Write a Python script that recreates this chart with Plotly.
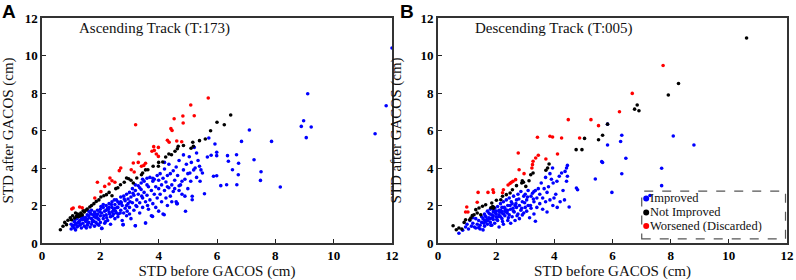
import plotly.graph_objects as go
from plotly.subplots import make_subplots

# ---------------- Panel A: Ascending Track (T:173) ----------------
a_imp_x = [1.0,1.05,1.1,1.15,1.2,1.25,1.3,1.3,1.35,1.4,1.45,1.45,1.5,1.5,1.1,1.2,1.4,1.0,1.15,1.35,
           1.55,1.55,1.6,1.6,1.65,1.65,1.7,1.7,1.75,1.75,1.8,1.8,1.85,1.85,1.9,1.9,1.95,1.95,2.0,2.0,1.6,1.7,1.8,1.9,2.0,1.55,
           2.05,2.05,2.1,2.1,2.15,2.15,2.2,2.2,2.25,2.25,2.3,2.3,2.35,2.35,2.4,2.4,2.45,2.45,2.5,2.5,2.2,2.3,2.4,2.5,2.1,
           2.55,2.55,2.6,2.6,2.65,2.7,2.7,2.75,2.75,2.78,2.8,2.8,2.85,2.85,2.9,2.9,2.95,2.95,3.0,3.0,3.0,2.6,2.7,2.9,
           3.05,3.05,3.1,3.1,3.15,3.15,3.2,3.2,3.25,3.25,3.3,3.3,3.35,3.35,3.4,3.4,3.45,3.45,3.5,3.5,3.55,3.55,3.2,3.35,3.45,
           3.6,3.6,3.65,3.65,3.7,3.7,3.75,3.75,3.8,3.8,3.85,3.85,3.9,3.9,3.95,3.95,4.0,4.0,4.0,3.6,3.8,
           4.05,4.05,4.1,4.1,4.15,4.15,4.2,4.2,4.25,4.25,4.3,4.3,4.35,4.35,4.4,4.4,4.45,4.45,4.5,4.5,4.2,4.3,
           4.55,4.55,4.6,4.6,4.62,4.65,4.7,4.7,4.75,4.8,4.8,4.85,4.85,4.9,4.92,4.95,5.0,5.0,4.7,4.9,
           5.05,5.07,5.1,5.12,5.15,5.15,5.2,5.22,5.25,5.3,5.35,5.4,5.42,5.45,5.5,5.3,5.57,
           5.67,5.72,5.8,5.88,5.93,5.99,5.99,5.99,6.13,6.33,6.36,6.39,6.53,6.67,6.68,6.73,6.74,6.84,
           7.11,7.27,7.49,7.51,7.87,8.17,8.89,8.97,9.06,9.11,9.23,11.42,11.8,12.0,
           2.05,2.78,3.2,3.55,3.79,4.19,4.64,
           1.08,1.18,1.28,1.38,1.48,1.58,1.68,1.78,1.88,1.98,1.12,1.22,1.32,1.42,1.52,1.62,1.72,1.82,1.92,2.02,
           2.12,2.22,2.32,2.42,2.52,2.62,2.72,2.82,2.92,3.02,2.18,2.28,2.38,2.48,2.58,2.68,3.12,3.22,3.42,3.62]
a_imp_y = [0.75,0.9,0.8,1.0,0.85,1.1,0.95,1.2,0.8,1.05,1.25,0.9,1.15,1.35,1.15,1.3,1.4,1.0,0.7,1.3,
           0.95,1.25,1.45,1.1,0.85,1.6,1.3,1.0,1.5,1.2,0.9,1.65,1.35,1.1,1.55,1.75,1.25,0.95,1.45,1.8,1.7,1.75,1.4,1.0,1.1,1.5,
           0.78,1.6,1.9,1.3,1.7,1.05,2.0,1.5,1.2,1.85,1.65,2.1,1.4,1.0,1.9,2.2,1.55,1.75,2.05,1.3,1.75,1.9,1.65,1.85,2.05,
           1.6,2.3,1.9,1.4,2.1,2.45,1.75,1.2,2.0,0.98,2.5,1.6,2.25,1.85,2.6,1.45,2.1,2.35,2.7,1.9,1.55,2.2,2.2,2.0,
           2.45,1.3,2.9,2.15,1.75,2.55,0.92,2.8,2.3,1.95,3.05,2.6,1.6,2.15,2.85,3.2,2.4,1.9,3.3,2.7,1.07,2.2,3.1,2.95,3.4,
           3.45,2.55,1.8,3.0,2.3,3.5,2.8,1.45,3.3,2.1,2.6,3.4,1.9,3.0,2.4,3.6,2.9,3.35,1.7,3.1,3.45,
           3.7,2.6,2.2,3.1,1.55,3.45,2.8,3.95,2.4,3.25,3.6,2.0,2.95,4.2,2.5,3.7,3.1,2.2,3.85,2.75,4.3,3.0,
           3.35,2.9,4.05,2.2,2.1,3.6,2.8,4.4,3.1,3.29,2.6,3.9,4.7,3.4,1.69,4.2,3.7,2.9,3.05,2.5,
           4.6,3.73,3.29,4.3,2.49,2.31,3.9,5.1,4.0,3.5,4.4,4.09,3.29,3.9,3.73,4.8,2.63,
           4.59,5.6,4.68,3.56,5.28,4.66,3.59,4.84,3.06,3.11,4.66,4.36,3.91,4.71,3.11,3.64,4.25,5.42,
           6.03,4.44,3.34,3.8,5.42,2.99,6.22,6.52,5.62,7.96,6.19,5.83,7.32,10.4,
           0.78,0.98,0.92,1.07,1.42,1.51,2.1,
           0.95,1.05,1.15,1.25,1.35,1.05,1.55,1.15,1.45,1.65,1.2,0.9,1.0,1.3,0.8,1.35,1.15,1.55,1.3,1.95,
           1.45,1.35,1.55,1.45,1.7,1.55,2.15,2.35,1.7,2.2,1.15,1.8,2.05,2.3,1.9,1.6,2.65,2.0,2.5,2.0]

a_not_x = [6.47,6.25,6.0,5.78,5.6,5.4,5.17,5.19,5.11,4.67,4.64,4.56,4.44,4.24,4.14,3.99,3.81,3.63,3.45,3.41,
           3.25,3.13,2.9,2.97,2.82,2.69,2.53,2.4,2.21,2.12,2.02,1.86,1.78,1.64,1.55,1.41,1.33,1.27,1.18,1.12,
           1.01,0.89,0.78,0.84,0.72,0.63,0.97,1.22,1.31,1.45,1.05,1.15,1.25,1.38,1.5,1.7,1.95,2.3,2.6,3.05,3.55,4.0,4.35,4.85]
a_not_y = [6.83,6.31,6.44,5.99,5.55,5.46,5.37,5.16,5.05,5.16,5.03,4.89,4.71,4.59,4.32,4.09,4.09,3.91,3.73,3.64,
           3.47,3.2,3.47,3.43,3.24,3.11,2.9,2.52,2.58,2.52,2.45,2.22,2.1,1.92,1.81,1.72,1.6,1.49,1.42,1.33,
           1.24,1.21,1.1,0.98,0.89,0.71,1.35,1.55,1.45,1.65,1.45,1.6,1.4,1.5,1.75,2.0,2.3,2.7,2.95,3.35,3.9,4.3,4.75,5.2]

a_wor_x = [5.7,5.1,5.22,4.83,4.84,4.53,4.42,4.46,3.21,4.3,4.36,4.62,4.79,3.83,3.99,3.77,3.85,3.92,3.99,3.33,
           3.3,3.13,3.49,3.55,3.41,3.06,3.16,2.7,2.65,2.33,2.4,2.5,2.3,2.15,1.9,2.02,1.81,1.29,1.38,1.02,1.07]
a_wor_y = [7.73,7.36,6.79,6.77,6.4,6.63,6.1,6.0,6.31,5.48,5.37,5.44,5.4,5.14,5.1,4.89,4.94,4.75,4.62,4.76,
           4.3,4.27,4.14,4.25,4.09,3.91,3.79,4.0,3.86,3.47,3.32,3.24,3.15,3.02,3.24,2.74,2.4,1.92,1.88,1.81,1.87]

# ---------------- Panel B: Descending Track (T:005) ----------------
b_imp_x = [0.72,0.85,0.95,1.0,1.05,1.1,1.15,1.2,1.25,1.3,1.3,1.35,1.4,1.45,1.45,1.5,1.5,1.2,1.4,
           1.55,1.55,1.6,1.6,1.65,1.7,1.7,1.75,1.8,1.8,1.85,1.85,1.9,1.9,1.95,1.95,2.0,2.0,1.65,1.75,1.6,1.8,1.9,
           2.05,2.05,2.1,2.1,2.15,2.15,2.2,2.2,2.25,2.25,2.3,2.3,2.35,2.35,2.4,2.4,2.45,2.45,2.5,2.5,2.1,2.2,2.3,2.4,2.0,2.15,2.25,
           2.55,2.55,2.6,2.6,2.65,2.7,2.7,2.75,2.75,2.8,2.8,2.85,2.85,2.9,2.9,2.95,3.0,3.0,2.65,2.95,
           3.05,3.05,3.1,3.1,3.15,3.2,3.2,3.25,3.3,3.3,3.35,3.35,3.4,3.4,3.45,3.5,3.5,3.3,
           3.55,3.6,3.6,3.65,3.7,3.7,3.75,3.75,3.8,3.85,3.9,3.95,3.99,3.96,3.94,3.85,
           4.05,4.09,4.17,4.25,4.3,4.37,4.42,4.45,4.45,4.42,4.35,4.51,4.2,4.1,
           4.76,4.8,5.41,5.98,5.63,5.66,5.83,5.83,6.28,6.32,6.32,6.46,7.29,7.69,7.69,8.09,8.8,
           1.58,1.68,1.78,1.88,1.98,2.08,2.18,2.28,2.38,2.48,2.58,2.68,2.78,2.88,2.98,3.08,3.18,3.28,
           1.62,1.72,1.82,1.92,2.02,2.12,2.22,2.32,2.42,2.52,2.62,2.72]
b_imp_y = [0.52,0.68,0.85,1.0,0.75,1.2,0.9,1.05,0.85,1.3,0.8,1.0,1.2,0.75,0.95,1.4,1.1,1.35,0.82,
           0.7,1.3,0.9,1.55,1.15,1.7,1.0,1.35,1.8,1.1,1.5,0.95,1.25,1.65,1.85,1.05,1.4,1.7,1.4,1.6,1.2,1.3,1.45,
           1.2,1.95,1.5,0.85,1.75,2.1,1.3,1.6,2.2,1.0,1.85,1.45,2.3,1.65,1.2,2.0,1.5,2.4,1.8,1.05,1.75,1.9,1.7,1.75,1.55,1.4,1.55,
           2.1,1.4,2.5,1.7,1.2,2.3,1.9,2.6,1.55,2.0,1.3,2.75,1.75,2.2,1.5,2.5,1.9,2.6,2.0,1.6,
           2.3,1.7,2.8,2.0,1.35,2.5,1.85,2.65,2.2,1.55,1.16,2.8,2.4,1.9,2.9,2.1,2.6,2.75,
           3.2,1.8,2.4,2.9,2.2,3.5,1.65,2.7,3.0,2.3,3.4,2.0,2.4,3.2,4.0,3.7,
           2.6,3.29,3.56,3.73,2.8,3.82,4.0,4.14,3.56,3.29,2.3,1.92,2.2,1.9,
           2.93,2.84,3.41,2.7,4.34,4.29,5.23,6.34,5.41,5.75,3.69,4.52,2.53,3.99,3.06,5.71,5.23,
           1.05,1.25,1.55,1.35,1.6,1.4,1.7,1.9,1.6,2.0,1.85,2.1,2.35,1.85,2.15,2.45,2.0,2.35,
           1.45,1.2,0.95,1.75,1.25,1.65,1.15,1.75,1.35,2.2,1.65,1.45]

b_not_x = [10.61,8.27,7.92,6.85,6.76,6.91,5.83,5.66,5.52,5.04,4.75,4.95,3.82,3.77,3.71,3.27,3.19,3.13,2.9,2.94,
           2.88,3.02,2.7,2.56,2.48,2.35,2.22,2.16,2.01,1.85,1.88,1.92,1.82,1.9,1.64,1.53,1.41,1.3,1.35,1.24,
           1.47,1.13,1.18,1.09,0.95,0.9,0.72,0.82,0.52,0.63]
b_not_y = [10.93,8.51,7.89,7.36,7.14,7.05,6.34,5.75,5.51,5.58,4.98,4.98,4.21,4.0,3.88,3.73,3.64,3.32,3.32,3.24,
           3.2,3.02,3.06,2.84,2.67,2.58,2.49,2.31,2.28,2.13,1.95,1.9,1.88,1.85,2.04,1.96,1.87,1.78,1.6,1.51,
           1.51,1.33,1.46,1.24,1.24,1.1,0.8,0.75,0.92,0.71]

b_wor_x = [7.74,6.68,6.24,4.48,5.26,5.52,4.87,4.25,3.85,3.94,3.42,4.11,3.45,3.36,3.71,3.27,3.25,3.23,2.76,2.79,
           2.96,2.67,2.58,2.53,2.48,2.41,2.25,2.22,1.89,1.91,1.72,1.38,1.35,0.99,0.95,1.03]
b_wor_y = [9.47,7.98,7.0,6.58,6.58,6.26,5.6,5.6,5.69,5.65,5.64,4.75,4.68,4.53,4.48,4.36,4.18,4.0,4.8,3.91,
           3.7,3.38,3.29,3.24,3.18,3.09,2.84,2.68,2.84,2.7,2.7,2.7,2.17,1.92,1.65,1.65]

legend_labels = ["Improved", "Not Improved", "Worsened (Discarded)"]
colors = ["#0000ff", "#000000", "#ff0000"]

SERIF = "Liberation Serif"

fig = make_subplots(rows=1, cols=2, horizontal_spacing=0.0)

panels = [
    (1, [(a_imp_x, a_imp_y), (a_not_x, a_not_y), (a_wor_x, a_wor_y)]),
    (2, [(b_imp_x, b_imp_y), (b_not_x, b_not_y), (b_wor_x, b_wor_y)]),
]
for col, series in panels:
    for (xs, ys), name, c in zip(series, legend_labels, colors):
        fig.add_trace(go.Scatter(x=xs, y=ys, mode="markers", name=name, showlegend=False,
                                 marker=dict(color=c, size=3.6, line=dict(width=0))),
                      row=1, col=col)

tick_font = dict(family=SERIF, size=13, color="#000", weight="bold")
title_font = dict(family=SERIF, size=15, color="#111")
axis_common = dict(range=[0, 12], dtick=2, ticks="inside", ticklen=4, tickwidth=1, tickcolor="#222",
                   showline=True, linecolor="#333", linewidth=1.5, mirror=True, showgrid=False,
                   zeroline=False, automargin=False, tickfont=tick_font)

fig.update_layout(
    width=796, height=280,
    margin=dict(l=42, r=9, t=18, b=37),
    paper_bgcolor="white", plot_bgcolor="white",
    showlegend=False,
    xaxis=dict(domain=[0, 0.4698], title=dict(text="STD before GACOS (cm)", font=title_font), **axis_common),
    xaxis2=dict(domain=[0.5315, 1.0], title=dict(text="STD before GACOS (cm)", font=title_font), **axis_common),
    yaxis=dict(title=dict(text="STD after GACOS (cm)", font=title_font), **axis_common),
    yaxis2=dict(title=dict(text="STD after GACOS (cm)", font=title_font), **axis_common),
)

# Panel labels and track titles
fig.add_annotation(text="<b>A</b>", xref="paper", yref="paper", x=-0.056, y=1.085,
                   xanchor="left", yanchor="top", showarrow=False,
                   font=dict(family="Liberation Sans", size=19, color="black"))
fig.add_annotation(text="<b>B</b>", xref="paper", yref="paper", x=0.478, y=1.085,
                   xanchor="left", yanchor="top", showarrow=False,
                   font=dict(family="Liberation Sans", size=19, color="black"))
fig.add_annotation(text="Ascending Track (T:173)", xref="x domain", yref="y domain", x=0.1, y=0.955,
                   xanchor="left", yanchor="middle", showarrow=False, font=dict(family=SERIF, size=15, color="#111"))
fig.add_annotation(text="Descending Track (T:005)", xref="x2 domain", yref="y2 domain", x=0.1, y=0.955,
                   xanchor="left", yanchor="middle", showarrow=False, font=dict(family=SERIF, size=15, color="#111"))

# Manual legend (dashed box) in panel B
fig.add_shape(type="rect", xref="paper", yref="paper", x0=0.805, x1=0.998, y0=0.018, y1=0.231,
              line=dict(color="#555", width=1.2, dash="dash"), fillcolor="rgba(0,0,0,0)")
leg_y = [0.1978, 0.1356, 0.0756]
for lab, c, yy in zip(legend_labels, colors, leg_y):
    fig.add_shape(type="circle", xref="paper", yref="paper", xsizemode="pixel", ysizemode="pixel",
                  xanchor=0.811, yanchor=yy, x0=-3, x1=3, y0=-3, y1=3,
                  fillcolor=c, line=dict(width=0))
    fig.add_annotation(text=lab, xref="paper", yref="paper", x=0.815, y=yy, xanchor="left", yanchor="middle",
                       showarrow=False, height=12, borderpad=0,
                       font=dict(family=SERIF, size=12.5, color="#111"))

fig.write_html("out.html", config={"displayModeBar": False},
               post_script="document.body.style.margin='0px';")
